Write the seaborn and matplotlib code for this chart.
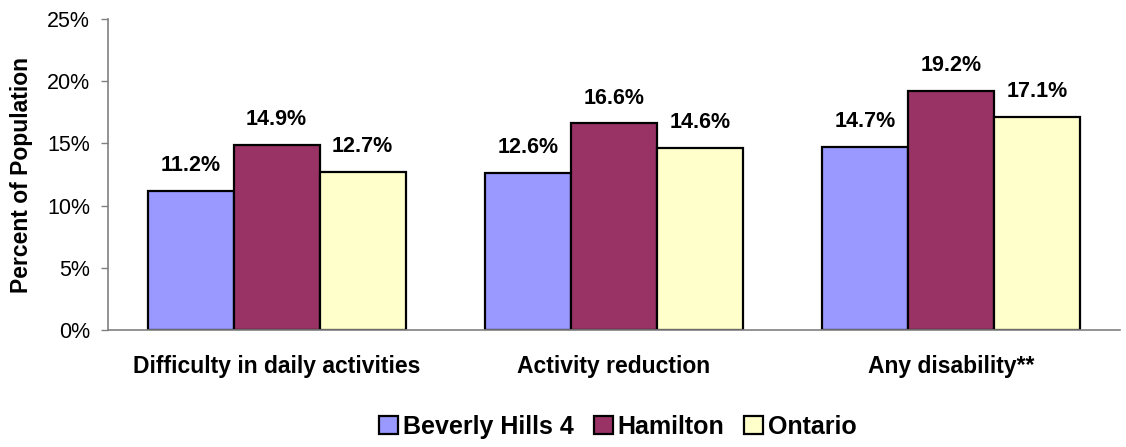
import matplotlib
matplotlib.use("Agg")
import matplotlib.pyplot as plt
import seaborn as sns
import pandas as pd
from matplotlib.ticker import FixedLocator, NullFormatter
from matplotlib.patches import Patch

categories = ["Difficulty in daily activities", "Activity reduction", "Any disability**"]
series = ["Beverly Hills 4", "Hamilton", "Ontario"]
beverly = [11.2, 12.6, 14.7]
hamilton = [14.9, 16.6, 19.2]
ontario = [12.7, 14.6, 17.1]
colors = ["#9999FF", "#993366", "#FFFFCC"]

rows = []
for s, vals in zip(series, [beverly, hamilton, ontario]):
    for c, v in zip(categories, vals):
        rows.append({"cat": c, "series": s, "val": v})
df = pd.DataFrame(rows)

sns.set_style("white")
plt.rcParams['font.family'] = ['Liberation Sans', 'DejaVu Sans']
plt.rcParams['text.color'] = 'black'
plt.rcParams['xtick.color'] = 'black'
plt.rcParams['ytick.color'] = 'black'
plt.rcParams['axes.labelcolor'] = 'black'

fig = plt.figure(figsize=(11.26, 4.47), dpi=100)
ax = fig.add_axes([108/1126, 1 - 330/447, (1120-108)/1126, (330-19)/447])

sns.barplot(data=df, x="cat", y="val", hue="series", order=categories,
            hue_order=series, palette=colors, width=0.765, ax=ax,
            edgecolor="black", linewidth=1.6, saturation=1, errorbar=None,
            legend=False)

for cont in ax.containers:
    for bar in cont:
        h = bar.get_height()
        ax.text(bar.get_x() + bar.get_width()/2, h + 1.2, f"{h:.1f}%",
                ha="center", va="bottom", fontsize=15.5, fontweight="bold")

ax.set_ylim(0, 25)
ax.set_xlim(-0.5, 2.5)
ax.set_yticks([0, 5, 10, 15, 20, 25])
ax.set_yticklabels([f"{v}%" for v in [0, 5, 10, 15, 20, 25]], fontsize=15.5)
ax.set_xticks([0, 1, 2])
ax.set_xticklabels(categories, fontsize=16.5, fontweight="bold")
ax.tick_params(axis="x", length=0, pad=18)
ax.xaxis.set_minor_locator(FixedLocator([-0.5, 0.5, 1.5, 2.5]))
ax.xaxis.set_minor_formatter(NullFormatter())
ax.tick_params(axis="x", which="minor", length=5, color="#808080", width=1)
ax.tick_params(axis="y", length=5, color="#808080", labelcolor="black", width=1, left=True, pad=8)
ax.set_xlabel("")
ax.set_ylabel("Percent of Population", fontsize=16.5, fontweight="bold", labelpad=10)

for side in ["top", "right"]:
    ax.spines[side].set_visible(False)
for side in ["left", "bottom"]:
    ax.spines[side].set_color("#808080")
    ax.spines[side].set_linewidth(1.2)

handles = [Patch(facecolor=c, edgecolor="black", linewidth=1.6, label=s) for c, s in zip(colors, series)]
fig.legend(handles=handles, loc="center", bbox_to_anchor=(618/1126, 1 - 427/447), ncol=3,
           frameon=False, prop={"size": 18, "weight": "bold"}, handlelength=0.75,
           handleheight=0.75, handletextpad=0.2, columnspacing=0.8)

fig.savefig("out.png", dpi=100)
